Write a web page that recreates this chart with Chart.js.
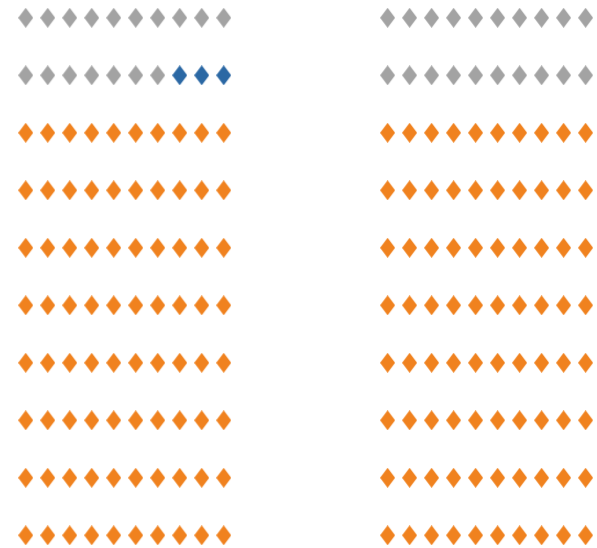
<!DOCTYPE html>
<html>
<head>
<meta charset="utf-8">
<script src="https://cdn.jsdelivr.net/npm/chart.js@4/dist/chart.umd.min.js"></script>
<style>
html,body{margin:0;padding:0;background:#fff;}
#wrap{position:relative;width:597px;height:548px;}
</style>
</head>
<body>
<div id="wrap"><canvas id="c"></canvas></div>
<script>
// Data
const panels = ['Left', 'Right'];
const categories = ['Gray', 'Blue', 'Orange'];
const leftCounts = [17, 3, 80];
const rightCounts = [20, 0, 80];
const gridCols = 10;
const gridRows = 10;

// Styles
const colors = ['#a3a3a3', '#2b68a4', '#f0821f'];
const panelOffset = [0, 16.45];

function diamond(color) {
  const w = 15, h = 20;
  const cv = document.createElement('canvas');
  cv.width = w; cv.height = h;
  const g = cv.getContext('2d');
  g.fillStyle = color;
  g.beginPath();
  g.moveTo(w / 2, 0);
  g.lineTo(w, h / 2);
  g.lineTo(w / 2, h);
  g.lineTo(0, h / 2);
  g.closePath();
  g.fill();
  return cv;
}

const countsByPanel = [leftCounts, rightCounts];
const datasets = categories.map((cat, ci) => ({
  label: cat,
  data: [],
  pointStyle: diamond(colors[ci]),
  backgroundColor: colors[ci],
  borderColor: colors[ci]
}));

countsByPanel.forEach((counts, pi) => {
  let idx = 0;
  counts.forEach((n, ci) => {
    for (let k = 0; k < n; k++) {
      const r = Math.floor(idx / gridCols);
      const c = idx % gridCols;
      datasets[ci].data.push({ x: c + panelOffset[pi], y: r });
      idx++;
    }
  });
});

new Chart(document.getElementById('c'), {
  type: 'scatter',
  data: { datasets },
  options: {
    responsive: true,
    maintainAspectRatio: false,
    animation: false,
    layout: { padding: 0, autoPadding: false },
    plugins: { legend: { display: false }, tooltip: { enabled: false } },
    scales: {
      x: { type: 'linear', display: false, min: -25.7 / 22, max: (597 - 25.7) / 22 },
      y: { type: 'linear', display: false, reverse: true, min: -17.8 / 57.5, max: (548 - 17.8) / 57.5 }
    }
  }
});
</script>
</body>
</html>
